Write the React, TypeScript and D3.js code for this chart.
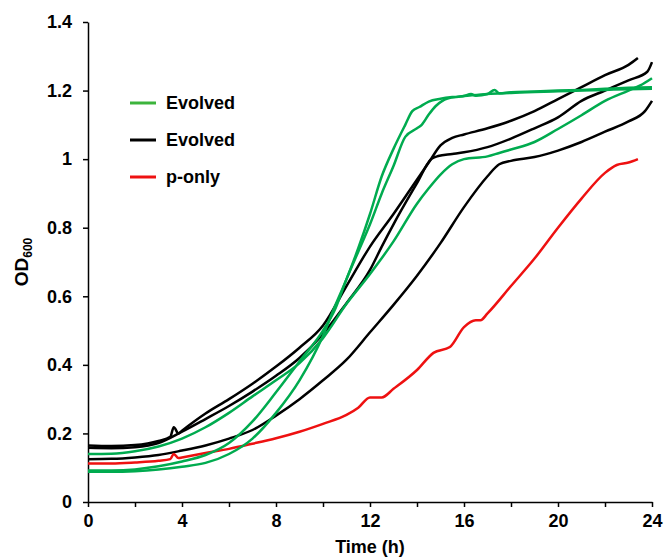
import React, { useEffect, useRef } from "react";
import * as d3 from "d3";

// OD600 readings, [time (h), OD]
const evolvedGreenA: [number, number][] = [
  [0, 0.088], [1, 0.088], [2, 0.09], [3, 0.095], [4, 0.103], [5, 0.114], [6, 0.14],
  [7, 0.185], [8, 0.26], [9, 0.355], [10, 0.485], [10.5, 0.57], [11, 0.65], [11.5, 0.74],
  [12, 0.84], [12.5, 0.95], [13, 1.03], [13.5, 1.1], [13.8, 1.14], [14.1, 1.152],
  [14.5, 1.168], [15, 1.176], [15.5, 1.181], [16, 1.184], [17, 1.19], [18, 1.193],
  [19, 1.196], [20, 1.198], [21, 1.2], [22, 1.202], [23, 1.204], [24, 1.205],
];

const evolvedGreenB: [number, number][] = [
  [0, 0.092], [1, 0.092], [2, 0.095], [3, 0.104], [4, 0.118], [5, 0.137], [6, 0.172],
  [7, 0.235], [8, 0.32], [9, 0.41], [10, 0.5], [10.5, 0.56], [11, 0.65], [11.5, 0.73],
  [12, 0.81], [12.5, 0.9], [13, 0.98], [13.5, 1.065], [14, 1.09], [14.2, 1.1],
  [14.5, 1.13], [14.8, 1.155], [15.3, 1.177], [16, 1.184], [16.3, 1.19], [16.5, 1.185],
  [17, 1.19], [17.3, 1.202], [17.5, 1.192], [18, 1.195], [19, 1.197], [20, 1.2],
  [21, 1.202], [22, 1.205], [23, 1.208], [24, 1.21],
];

const evolvedGreenC: [number, number][] = [
  [0, 0.14], [1, 0.141], [2, 0.148], [3, 0.162], [4, 0.185], [5, 0.218], [6, 0.26],
  [7, 0.308], [8, 0.355], [9, 0.405], [10, 0.478], [11, 0.578], [12, 0.665], [13, 0.76],
  [14, 0.87], [14.5, 0.915], [15, 0.955], [15.5, 0.985], [16, 1.0], [17, 1.008],
  [17.5, 1.018], [18, 1.028], [19, 1.05], [20, 1.088], [21, 1.128], [22, 1.17],
  [23, 1.2], [23.5, 1.215], [24, 1.236],
];

const evolvedBlackA: [number, number][] = [
  [0, 0.165], [1, 0.163], [2, 0.166], [3, 0.178], [3.5, 0.19], [3.65, 0.218], [3.85, 0.2],
  [4, 0.208], [5, 0.258], [6, 0.3], [7, 0.345], [8, 0.395], [9, 0.45], [10, 0.515],
  [11, 0.63], [12, 0.745], [13, 0.84], [13.8, 0.92], [14.5, 0.99], [15, 1.04],
  [15.5, 1.062], [16, 1.072], [17, 1.09], [18, 1.112], [19, 1.14], [20, 1.175],
  [21, 1.21], [22, 1.245], [23, 1.275], [23.4, 1.295],
];

const evolvedBlackB: [number, number][] = [
  [0, 0.158], [1, 0.157], [2, 0.16], [3, 0.172], [4, 0.205], [5, 0.242], [6, 0.28],
  [7, 0.322], [8, 0.368], [9, 0.42], [10, 0.49], [11, 0.58], [12, 0.677], [12.5, 0.745],
  [13, 0.81], [14, 0.93], [14.6, 1.0], [14.9, 1.009], [15.5, 1.015], [16, 1.02],
  [17, 1.035], [18, 1.06], [19, 1.09], [20, 1.122], [21, 1.17], [22, 1.2], [23, 1.23],
  [23.8, 1.255], [24, 1.283],
];

const evolvedBlackC: [number, number][] = [
  [0, 0.125], [1, 0.126], [2, 0.13], [3, 0.137], [4, 0.15], [5, 0.165], [6, 0.185],
  [7, 0.21], [8, 0.252], [9, 0.3], [10, 0.355], [11, 0.415], [12, 0.495], [13, 0.575],
  [14, 0.66], [15, 0.755], [16, 0.86], [17, 0.95], [17.5, 0.985], [18, 0.995],
  [19, 1.006], [20, 1.025], [21, 1.05], [22, 1.08], [23, 1.11], [23.7, 1.14], [24, 1.17],
];

const pOnly: [number, number][] = [
  [0, 0.112], [1, 0.112], [2, 0.115], [3, 0.12], [3.5, 0.125], [3.65, 0.14], [3.85, 0.128],
  [4, 0.13], [5, 0.143], [6, 0.155], [7, 0.17], [8, 0.186], [9, 0.205], [10, 0.228],
  [11, 0.254], [11.5, 0.275], [12, 0.305], [12.5, 0.305], [13, 0.33], [14, 0.385],
  [14.7, 0.435], [15.4, 0.452], [16, 0.51], [16.5, 0.53], [16.7, 0.53], [17, 0.55],
  [18, 0.63], [19, 0.71], [20, 0.8], [21, 0.885], [22, 0.96], [22.5, 0.983], [23, 0.99],
  [23.4, 1.0],
];

const xTicks = [0, 2, 4, 6, 8, 10, 12, 14, 16, 18, 20, 22, 24];
const yTicks = [0, 0.2, 0.4, 0.6, 0.8, 1, 1.2, 1.4];
const yTickLabels = ["0", "0.2", "0.4", "0.6", "0.8", "1", "1.2", "1.4"];

const legendLabels = ["Evolved", "Evolved", "p-only"];

const GREEN = "#00ab4f";
const LEGEND_GREEN = "#3cb43c";
const BLACK = "#000000";
const RED = "#ee1111";

export default function App() {
  const svgRef = useRef<SVGSVGElement>(null);

  useEffect(() => {
    const width = 667;
    const height = 559;
    const margin = { top: 22, right: 15, bottom: 57, left: 88 };
    const font = "'Liberation Sans', Arial, sans-serif";

    const svg = d3.select(svgRef.current);
    svg.selectAll("*").remove();
    svg.attr("width", width).attr("height", height);

    const x = d3.scaleLinear().domain([0, 24]).range([margin.left, width - margin.right]);
    const y = d3.scaleLinear().domain([0, 1.4]).range([height - margin.bottom, margin.top]);

    const xAxis = svg
      .append("g")
      .attr("transform", `translate(0, ${y(0)})`)
      .call(
        d3
          .axisBottom(x)
          .tickValues(xTicks)
          .tickSize(5)
          .tickSizeOuter(0)
          .tickPadding(7)
          .tickFormat((d) => (+d % 4 === 0 ? String(d) : ""))
      );

    const yAxis = svg
      .append("g")
      .attr("transform", `translate(${x(0)}, 0)`)
      .call(
        d3
          .axisLeft(y)
          .tickValues(yTicks)
          .tickSize(5)
          .tickSizeOuter(0)
          .tickPadding(11)
          .tickFormat((d, i) => yTickLabels[i])
      );

    [xAxis, yAxis].forEach((g) => {
      g.select(".domain").attr("stroke", "#000").attr("stroke-width", 1.5);
      g.selectAll(".tick line").attr("stroke", "#000").attr("stroke-width", 1.5);
      g.selectAll(".tick text")
        .attr("fill", "#000")
        .style("font-family", font)
        .style("font-weight", "bold")
        .style("font-size", "18px");
    });

    const line = d3
      .line<[number, number]>()
      .x((d) => x(d[0]))
      .y((d) => y(d[1]))
      .curve(d3.curveMonotoneX);

    const series: { data: [number, number][]; color: string }[] = [
      { data: evolvedBlackC, color: BLACK },
      { data: evolvedBlackB, color: BLACK },
      { data: evolvedBlackA, color: BLACK },
      { data: pOnly, color: RED },
      { data: evolvedGreenC, color: GREEN },
      { data: evolvedGreenB, color: GREEN },
      { data: evolvedGreenA, color: GREEN },
    ];

    svg
      .append("g")
      .selectAll("path")
      .data(series)
      .join("path")
      .attr("d", (d) => line(d.data))
      .attr("fill", "none")
      .attr("stroke", (d) => d.color)
      .attr("stroke-width", 2.5)
      .attr("stroke-linejoin", "round");

    // legend
    const legendColors = [LEGEND_GREEN, BLACK, RED];
    const legend = svg
      .append("g")
      .selectAll("g")
      .data(legendLabels)
      .join("g")
      .attr("transform", (d, i) => `translate(130, ${103 + i * 37})`);

    legend
      .append("line")
      .attr("x1", 0)
      .attr("x2", 26)
      .attr("stroke", (d, i) => legendColors[i])
      .attr("stroke-width", 3);

    legend
      .append("text")
      .attr("x", 36)
      .attr("dy", "0.35em")
      .style("font-family", font)
      .style("font-weight", "bold")
      .style("font-size", "18px")
      .text((d) => d);

    // axis titles
    svg
      .append("text")
      .attr("x", (x(0) + x(24)) / 2)
      .attr("y", 553)
      .attr("text-anchor", "middle")
      .style("font-family", font)
      .style("font-weight", "bold")
      .style("font-size", "18px")
      .text("Time (h)");

    const yTitle = svg
      .append("text")
      .attr("transform", `translate(28, ${(y(0) + y(1.4)) / 2}) rotate(-90)`)
      .attr("text-anchor", "middle")
      .style("font-family", font)
      .style("font-weight", "bold")
      .style("font-size", "19px");
    yTitle.append("tspan").text("OD");
    yTitle
      .append("tspan")
      .attr("dy", "0.3em")
      .style("font-size", "12px")
      .text("600");
  }, []);

  return (
    <div style={{ position: "absolute", left: 0, top: 0 }}>
      <svg ref={svgRef}></svg>
    </div>
  );
}
